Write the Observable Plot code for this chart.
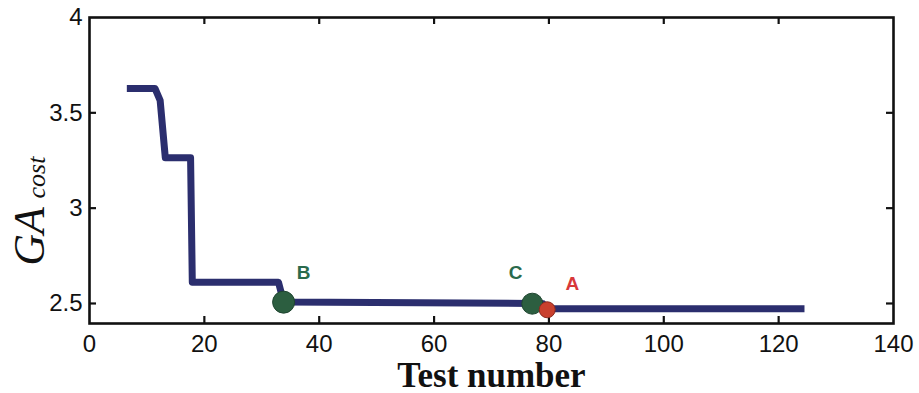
<!DOCTYPE html>
<html>
<head>
<meta charset="utf-8">
<script src="https://cdn.jsdelivr.net/npm/d3@7"></script>
<script src="https://cdn.jsdelivr.net/npm/@observablehq/plot@0.6"></script>
<style>
  html, body { margin: 0; padding: 0; background: #fff; }
</style>
</head>
<body>
<div id="chart"></div>
<script>
// Best-so-far GA cost vs test number (step curve)
const testNumber = [6.5, 11.4, 12.3, 13.2, 17.6, 17.9, 32.9, 33.8, 77.1, 79.0, 79.7, 124.5];
const gaCost     = [3.628, 3.628, 3.565, 3.265, 3.265, 2.612, 2.612, 2.508, 2.500, 2.498, 2.472, 2.472];

// Highlighted points
const pointNames = ["B", "C", "A"];
const pointX     = [33.8, 77.1, 79.7];
const pointY     = [2.507, 2.499, 2.467];
const labelX     = [37.3, 74.2, 84.1];
const labelY     = [2.658, 2.658, 2.605];

const xTicks = [0, 20, 40, 60, 80, 100, 120, 140];
const yTicks = [2.5, 3, 3.5, 4];
const innerXTicks = [20, 40, 60, 80, 100, 120];
const innerYTicks = [2.5, 3, 3.5];

const series = testNumber.map((x, i) => ({x, y: gaCost[i]}));
const points = pointNames.map((n, i) => ({name: n, x: pointX[i], y: pointY[i], lx: labelX[i], ly: labelY[i]}));

const W = 919, H = 393;
const mL = 89, mR = 26, mT = 17, mB = 70;
const fw = W - mL - mR, fh = H - mT - mB;
const tl = 7;

const green = "#2c5e40", greenText = "#2a6a4c", red = "#c9402e", redText = "#d8383a";
const navy = "#2b2e6e";
const sans = "Liberation Sans, Arial, Helvetica, sans-serif";
const serif = "Liberation Serif, Times New Roman, serif";

const chart = Plot.plot({
  width: W,
  height: H,
  marginLeft: mL,
  marginRight: mR,
  marginTop: mT,
  marginBottom: mB,
  style: {background: "#fff", overflow: "visible"},
  x: {domain: [0, 140], ticks: xTicks, label: null},
  y: {domain: [2.395, 4], ticks: yTicks, label: null},
  marks: [
    Plot.axisX({ticks: xTicks, tickFormat: d => String(d), tickSize: 0, tickPadding: 11, fontSize: 24, fontFamily: sans, fill: "#111", label: null}),
    Plot.axisY({ticks: yTicks, tickFormat: d => String(d), tickSize: 0, tickPadding: 7, fontSize: 24, fontFamily: sans, fill: "#111", label: null}),
    // inward ticks on all four sides
    Plot.tickX(innerXTicks, {x: d => d, insetTop: fh - tl, stroke: "#111", strokeWidth: 2.2}),
    Plot.tickX(innerXTicks, {x: d => d, insetBottom: fh - tl, stroke: "#111", strokeWidth: 2.2}),
    Plot.tickY(innerYTicks, {y: d => d, insetRight: fw - tl, stroke: "#111", strokeWidth: 2.2}),
    Plot.tickY(innerYTicks, {y: d => d, insetLeft: fw - tl, stroke: "#111", strokeWidth: 2.2}),
    Plot.frame({stroke: "#111", strokeWidth: 2.6}),
    Plot.line(series, {x: "x", y: "y", stroke: navy, strokeWidth: 7, strokeLinejoin: "round", strokeLinecap: "butt"}),
    Plot.dot(points.filter(d => d.name === "B"), {x: "x", y: "y", r: 11, fill: green, stroke: "#1f4530", strokeWidth: 1}),
    Plot.dot(points.filter(d => d.name === "C"), {x: "x", y: "y", r: 10.5, fill: green, stroke: "#1f4530", strokeWidth: 1}),
    Plot.dot(points.filter(d => d.name === "A"), {x: "x", y: "y", r: 8, fill: red, stroke: "#8a2a20", strokeWidth: 1}),
    Plot.text(points, {x: "lx", y: "ly", text: "name", fill: d => d.name === "A" ? redText : greenText, fontSize: 19, fontWeight: "bold", fontFamily: sans}),
    // x-axis title
    Plot.text(["Test number"], {frameAnchor: "bottom", dy: 63, lineAnchor: "bottom", text: d => d, fontSize: 35, fontWeight: "bold", fontFamily: serif, fill: "#111"}),
    // y-axis title: GA_cost
    Plot.text(["GA"], {frameAnchor: "left", dx: -46, dy: 66, rotate: -90, textAnchor: "middle", lineAnchor: "bottom", text: d => d, fontSize: 44, fontStyle: "italic", fontFamily: serif, fill: "#111"}),
    Plot.text(["cost"], {frameAnchor: "left", dx: -45, dy: 28, rotate: -90, textAnchor: "start", lineAnchor: "bottom", text: d => d, fontSize: 26, fontStyle: "italic", fontFamily: serif, fill: "#111"})
  ]
});

document.getElementById("chart").appendChild(chart);
</script>
</body>
</html>
